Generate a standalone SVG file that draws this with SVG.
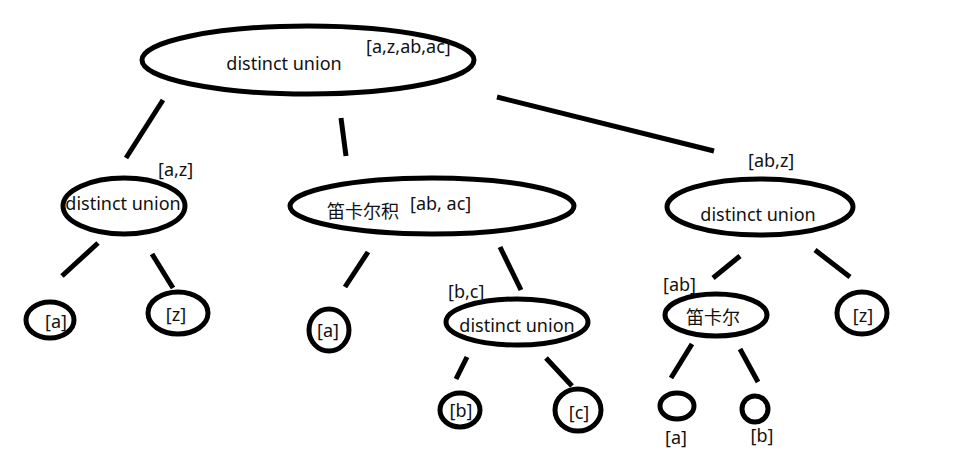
<svg xmlns="http://www.w3.org/2000/svg" width="967" height="462" viewBox="0 0 967 462">
<style>
.n{fill:none;stroke:#000;stroke-width:5}
.c line{stroke:#000;stroke-width:5;stroke-linecap:butt}
text{font-family:"Noto Sans","Noto Sans CJK SC",sans-serif;font-size:18px;fill:#111}
.m{text-anchor:middle}
</style>
<rect width="967" height="462" fill="#fff"/>
<g class="c" id="connectors">
<line x1="163" y1="100" x2="126" y2="158"/>
<line x1="341" y1="118" x2="346" y2="156"/>
<line x1="497" y1="97" x2="714" y2="151"/>
<line x1="98" y1="243" x2="62" y2="276"/>
<line x1="152" y1="254" x2="173" y2="288"/>
<line x1="368" y1="252" x2="345" y2="287"/>
<line x1="500" y1="247" x2="521" y2="290"/>
<line x1="467" y1="357" x2="456" y2="379"/>
<line x1="546" y1="358" x2="572" y2="386"/>
<line x1="740" y1="256" x2="713" y2="278"/>
<line x1="815" y1="250" x2="850" y2="277"/>
<line x1="692" y1="344" x2="671" y2="378"/>
<line x1="740" y1="349" x2="758" y2="382"/>
</g>
<g id="root">
<ellipse class="n" cx="308" cy="60" rx="166" ry="34"/>
<text class="m" x="284" y="70">distinct union</text>
<text x="366" y="53">[a,z,ab,ac]</text>
</g>
<g id="du-left">
<ellipse class="n" cx="124" cy="206" rx="61" ry="28"/>
<text class="m" x="123" y="210">distinct union</text>
<text x="158" y="176">[a,z]</text>
</g>
<g id="leaf-a1">
<ellipse class="n" cx="50" cy="320" rx="24" ry="18"/>
<text class="m" x="56" y="328">[a]</text>
</g>
<g id="leaf-z1">
<ellipse class="n" cx="178" cy="313" rx="30" ry="21"/>
<text class="m" x="176" y="321">[z]</text>
</g>
<g id="cart-mid">
<ellipse class="n" cx="432" cy="206" rx="142" ry="28"/>
<text x="327" y="218">笛卡尔积</text>
<text x="410" y="210">[ab, ac]</text>
</g>
<g id="leaf-a2">
<ellipse class="n" cx="329" cy="330" rx="20" ry="21"/>
<text class="m" x="328" y="337">[a]</text>
</g>
<g id="du-mid">
<ellipse class="n" cx="517" cy="322" rx="71" ry="23"/>
<text class="m" x="517" y="332">distinct union</text>
<text x="448" y="298">[b,c]</text>
</g>
<g id="leaf-b1">
<ellipse class="n" cx="460" cy="410" rx="20" ry="17"/>
<text class="m" x="461" y="417">[b]</text>
</g>
<g id="leaf-c1">
<ellipse class="n" cx="578" cy="410" rx="23" ry="21"/>
<text class="m" x="579" y="419">[c]</text>
</g>
<g id="du-right">
<ellipse class="n" cx="760" cy="207" rx="93" ry="28"/>
<text class="m" x="758" y="221">distinct union</text>
<text x="748" y="167">[ab,z]</text>
</g>
<g id="cart-right">
<ellipse class="n" cx="716" cy="315" rx="51" ry="21"/>
<text class="m" x="713" y="324">笛卡尔</text>
<text x="663" y="291">[ab]</text>
</g>
<g id="leaf-z2">
<ellipse class="n" cx="862" cy="313" rx="25" ry="21"/>
<text class="m" x="863" y="322">[z]</text>
</g>
<g id="leaf-a3">
<ellipse class="n" cx="677" cy="406" rx="17" ry="13"/>
<text class="m" x="676" y="444">[a]</text>
</g>
<g id="leaf-b2">
<ellipse class="n" cx="755" cy="409" rx="13" ry="13"/>
<text class="m" x="762" y="442">[b]</text>
</g>
</svg>
